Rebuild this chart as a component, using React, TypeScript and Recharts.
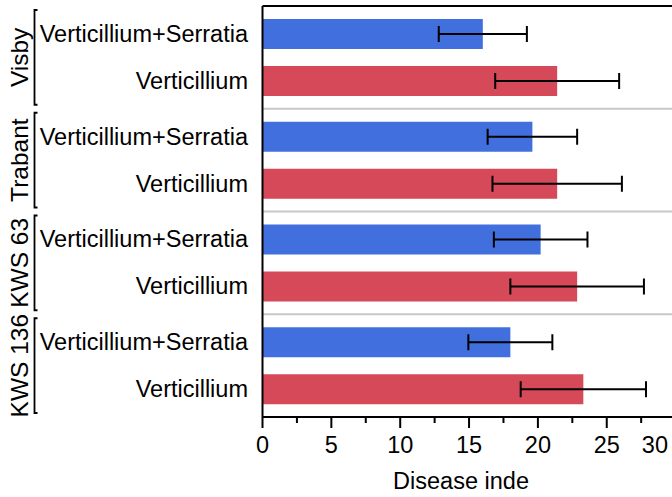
import React from 'react';
import { BarChart, Bar, XAxis, YAxis, ErrorBar, ReferenceLine } from 'recharts';

// values
const groups = ['Visby', 'Trabant', 'KWS 63', 'KWS 136'];
const seriesNames = ['Verticillium+Serratia', 'Verticillium'];
const serratiaMean = [16.0, 19.6, 20.2, 18.0];
const serratiaErr = [3.2, 3.25, 3.4, 3.05];
const verticilliumMean = [21.4, 21.4, 22.85, 23.3];
const verticilliumErr = [4.5, 4.7, 4.85, 4.55];
const xTicks = [0, 2.5, 5, 7.5, 10, 12.5, 15, 17.5, 20, 22.5, 25, 27.5, 30];
const xLabel = 'Disease inde';

const data = groups.map((g, i) => ({
  group: g,
  serratia: serratiaMean[i],
  serratiaErr: serratiaErr[i],
  verticillium: verticilliumMean[i],
  verticilliumErr: verticilliumErr[i],
}));

const FONT = '"Liberation Sans", Arial, sans-serif';
const BLUE = '#4170de';
const RED = '#d64959';
const BAR_SIZE = 30;
const BAR_GAP = 17;
const VIEW_W = 672;

// y tick: both row labels, the bracket and the rotated group name
const GroupTick = (props: any) => {
  const { x, y, payload } = props;
  const half = payload.offset ?? 51;
  const step = (BAR_SIZE + BAR_GAP) / 2;
  const bx = x - 228;
  const top = y - half + 4;
  const bot = y + half - 4;
  return (
    <g>
      <text x={x - 14.5} y={y - step} dy="0.34em" textAnchor="end" fontSize={23.5} fill="#000" fontFamily={FONT}>
        {seriesNames[0]}
      </text>
      <text x={x - 14.5} y={y + step} dy="0.34em" textAnchor="end" fontSize={23.5} fill="#000" fontFamily={FONT}>
        {seriesNames[1]}
      </text>
      <path d={`M${bx + 3},${top} H${bx} V${bot} H${bx + 3}`} fill="none" stroke="#000" strokeWidth={1.8} />
      <text
        transform={`translate(${x - 243.5}, ${y}) rotate(-90)`}
        dy="0.35em"
        textAnchor="middle"
        fontSize={24.5}
        fill="#000"
        fontFamily={FONT}
      >
        {payload.value}
      </text>
    </g>
  );
};

// x tick: long ticks with labels every 5, short ones in between
const ValueTick = (props: any) => {
  const { x, y, payload } = props;
  const v = payload.value;
  const major = v % 5 === 0;
  const label = String(v);
  const w = label.length * 0.556 * 23.5;
  let tx = x;
  let anchor: 'middle' | 'end' = 'middle';
  if (x + w / 2 > VIEW_W - 4) {
    tx = VIEW_W - 4;
    anchor = 'end';
  }
  return (
    <g>
      <line x1={x} x2={x} y1={y} y2={y + (major ? 11 : 6)} stroke="#000" strokeWidth={2} />
      {major && (
        <text x={tx} y={y + 35.7} textAnchor={anchor} fontSize={23.5} fill="#000" fontFamily={FONT}>
          {label}
        </text>
      )}
    </g>
  );
};

export default function App() {
  return (
    <div style={{ position: 'absolute', left: 0, top: 0, width: VIEW_W, height: 497, overflow: 'hidden', background: '#fff' }}>
      <BarChart
        width={700}
        height={497}
        data={data}
        layout="vertical"
        barSize={BAR_SIZE}
        barGap={BAR_GAP}
        margin={{ top: 0, right: 24.4, left: 0, bottom: 0 }}
      >
        <XAxis
          xAxisId="top"
          orientation="top"
          type="number"
          domain={[0, 30]}
          height={6}
          tick={false}
          tickLine={false}
          axisLine={{ stroke: '#000', strokeWidth: 2 }}
        />
        <XAxis
          type="number"
          domain={[0, 30]}
          ticks={xTicks}
          interval={0}
          height={80}
          tickSize={0}
          tickMargin={0}
          tickLine={false}
          tick={<ValueTick />}
          axisLine={{ stroke: '#000', strokeWidth: 2 }}
          label={{ value: xLabel, position: 'insideBottom', offset: 8, dx: -8, fontSize: 23.5, fill: '#000', fontFamily: FONT }}
        />
        <YAxis
          type="category"
          dataKey="group"
          width={262.5}
          tickSize={0}
          tickMargin={0}
          tickLine={false}
          tick={<GroupTick />}
          interval={0}
          axisLine={{ stroke: '#000', strokeWidth: 2 }}
        />
        {groups.slice(0, -1).map((g) => (
          <ReferenceLine key={g} y={g} position="end" stroke="#c8c8c8" strokeWidth={2} />
        ))}
        <Bar dataKey="serratia" fill={BLUE} isAnimationActive={false}>
          <ErrorBar dataKey="serratiaErr" direction="x" width={8} stroke="#000" strokeWidth={2} />
        </Bar>
        <Bar dataKey="verticillium" fill={RED} isAnimationActive={false}>
          <ErrorBar dataKey="verticilliumErr" direction="x" width={8} stroke="#000" strokeWidth={2} />
        </Bar>
      </BarChart>
    </div>
  );
}
